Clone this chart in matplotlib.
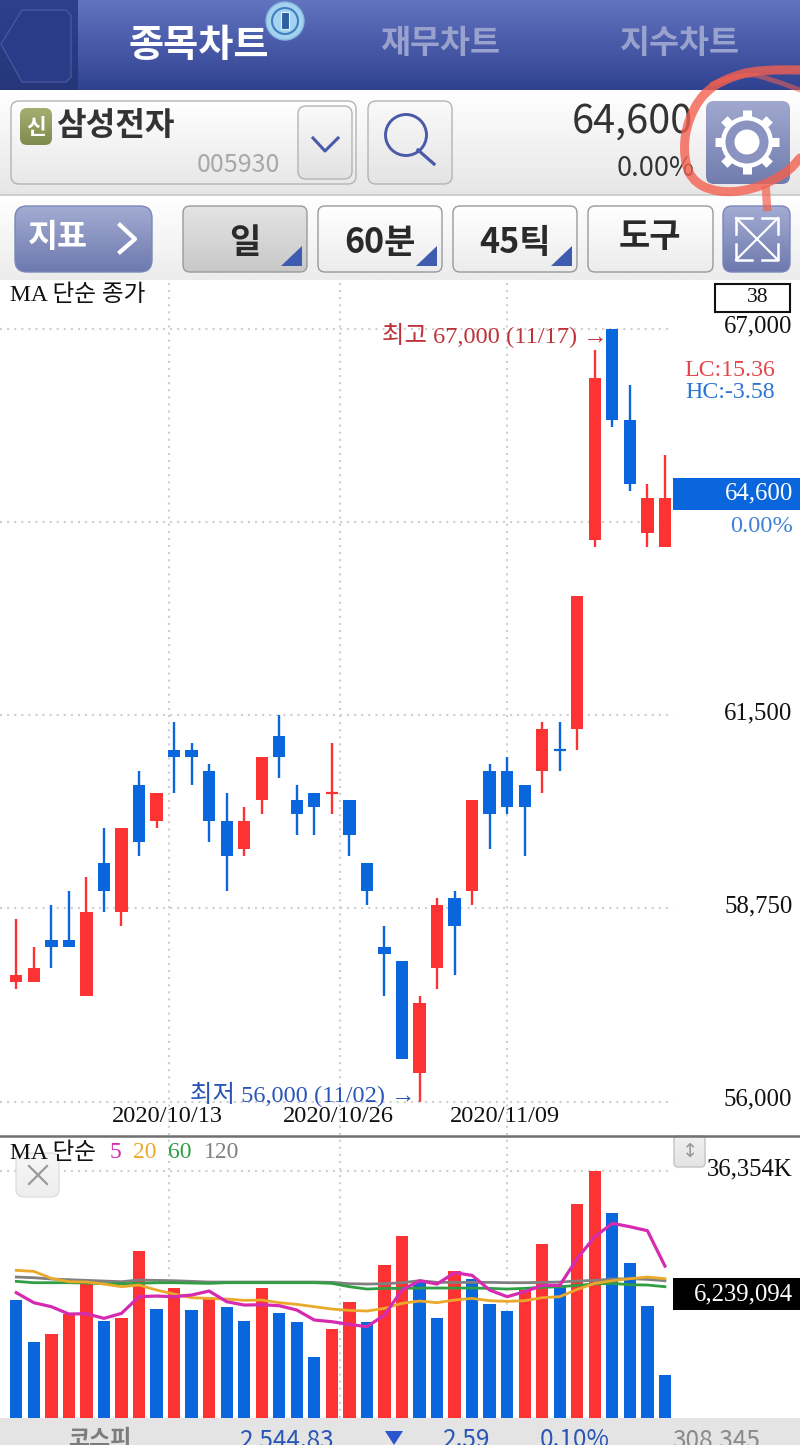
import numpy as np
import matplotlib
matplotlib.use('Agg')
import matplotlib.pyplot as plt
from matplotlib.patches import FancyBboxPatch, Circle, Polygon, Rectangle, PathPatch
from matplotlib.path import Path

KR = ['Noto Sans CJK KR', 'DejaVu Sans']
SERIF = ['Liberation Serif', 'Noto Sans CJK KR']
plt.rcParams['font.family'] = KR

# daily candles, won
opens = [57700, 57700, 58300, 58300, 57500, 59400, 58700, 60500, 60000, 61000,
         61000, 60700, 60000, 59600, 60300, 61200, 60300, 60400, 60400, 60300,
         59400, 58200, 58000, 56400, 57900, 58900, 59000, 60700, 60700, 60500,
         60700, 61000, 61300, 64000, 67000, 65700, 64100, 63900]
highs = [58600, 58200, 58800, 59000, 59200, 59900, 59900, 60700, 60400, 61400,
         61100, 60800, 60400, 60200, 60900, 61500, 60500, 60400, 61100, 60300,
         59400, 58500, 58000, 57500, 58900, 59000, 60300, 60800, 60900, 60500,
         61400, 61400, 63200, 66700, 67000, 66200, 64800, 65200]
lows = [57600, 57700, 57900, 58200, 57500, 58700, 58500, 59500, 59900, 60400,
        60500, 59700, 59000, 59500, 60100, 60600, 59800, 59800, 60100, 59500,
        58800, 57500, 56600, 56000, 57600, 57800, 58800, 59600, 60100, 59500,
        60400, 60700, 61000, 63900, 65600, 64700, 63900, 63900]
closes = [57800, 57900, 58200, 58200, 58700, 59000, 59900, 59700, 60400, 60900,
          60900, 60000, 59500, 60000, 60900, 60900, 60100, 60200, 60400, 59800,
          59000, 58100, 56600, 57400, 58800, 58500, 60300, 60100, 60200, 60200,
          61300, 61000, 63200, 66300, 65700, 64800, 64600, 64600]
candle_up = [1, 1, 0, 0, 1, 0, 1, 0, 1, 0, 0, 0, 0, 1, 1, 0, 0, 0, 1, 0,
             0, 0, 0, 1, 1, 0, 1, 0, 0, 0, 1, 0, 1, 1, 0, 0, 1, 1]

# volume, thousands of shares
volumes = [17367, 11137, 12363, 15258, 20164, 14227, 14620, 24481, 15945, 19084,
           15846, 17563, 16337, 14227, 19133, 15454, 14031, 8978, 13001, 17073,
           14129, 22519, 26787, 20164, 14718, 21537, 20409, 16680, 15699, 18790,
           25511, 19526, 31447, 36354, 30172, 22813, 16386, 6239]
volume_up = [0, 0, 1, 1, 1, 0, 1, 1, 0, 1, 0, 1, 0, 0, 1, 0, 0, 0, 1, 1,
             0, 1, 1, 0, 0, 1, 0, 0, 0, 1, 1, 0, 1, 1, 0, 0, 0, 0]
ma5 = [18398, 16926, 16337, 15258, 15307, 14620, 15356, 17809, 17907, 17809,
       18054, 18643, 17073, 16582, 16631, 16484, 15846, 14375, 14129, 13737,
       13393, 15110, 18790, 20164, 19673, 21341, 20949, 18790, 17809, 18545,
       19477, 19477, 23451, 26640, 28602, 28111, 27523, 22322]
ma20 = [21685, 21537, 20507, 20016, 19967, 19673, 19281, 19526, 18790, 18201,
        17662, 17563, 17465, 17269, 17318, 16926, 16680, 16337, 15994, 15797,
        15699, 16092, 16828, 17171, 16926, 17318, 17563, 17220, 17122, 17220,
        17662, 17809, 18888, 19771, 20164, 20458, 20703, 20458]
ma60 = [20066, 19869, 19869, 19869, 19820, 19722, 19722, 19771, 19869, 19869,
        19820, 19771, 19869, 19869, 19869, 19869, 19869, 19869, 19771, 19281,
        18937, 19035, 19035, 19084, 19084, 19084, 19084, 19035, 18937, 19035,
        19182, 19281, 19477, 19673, 19771, 19575, 19526, 19281]
ma120 = [20703, 20605, 20409, 20311, 20213, 20115, 20016, 20262, 20213, 20164,
         20066, 19967, 19967, 19967, 19967, 19967, 19967, 19967, 19918, 19722,
         19673, 19722, 19869, 20164, 19918, 19918, 19918, 19918, 19869, 19869,
         19918, 19967, 20115, 20213, 20409, 20458, 20360, 20164]

price_ticks = [67000, 64250, 61500, 58750, 56000]
price_labels = ['67,000', '', '61,500', '58,750', '56,000']
date_pos = [8.71, 18.44, 27.97]
date_labels = ['2020/10/13', '2020/10/26', '2020/11/09']

RED = '#fd3333'
BLUE = '#0a66dc'
GRID = '#cfcfcf'
W, H = 800, 1445
XLIM = (-0.93, 37.46)

fig = plt.figure(figsize=(W / 100, H / 100), dpi=100, facecolor='white')


def panel(top, bottom):
    return fig.add_axes([0, 1 - bottom / H, 673 / W, (bottom - top) / H])


def style_panel(ax, yticks):
    ax.set_xlim(*XLIM)
    for s in ax.spines.values():
        s.set_visible(False)
    ax.set_xticks(date_pos)
    ax.set_xticklabels([])
    ax.set_yticks(yticks)
    ax.set_yticklabels([])
    ax.tick_params(length=0)
    ax.grid(True, color=GRID, lw=1.5, ls=(0, (1, 2.4)))
    ax.set_axisbelow(True)


# price panel: 67,000 sits at y=329 and 56,000 at y=1101.5
ax = panel(280, 1135)
per_px = 11000 / (1101.5 - 329)
ax.set_ylim(56000 - (1135 - 1101.5) * per_px, 67000 + (329 - 280) * per_px)
style_panel(ax, price_ticks)

idx = np.arange(len(opens))
colors = [RED if u else BLUE for u in candle_up]
ax.vlines(idx, lows, highs, colors=colors, lw=1.7, zorder=3)
bottoms = [min(o, c) for o, c in zip(opens, closes)]
heights = [abs(o - c) for o, c in zip(opens, closes)]
ax.bar(idx, heights, 0.7, bottoms, color=colors, zorder=4)
for i in idx:
    if heights[i] == 0:
        ax.hlines(opens[i], i - 0.35, i + 0.35, colors=colors[i], lw=1.6, zorder=4)

for val, lab in zip(price_ticks, price_labels):
    ax.annotate(lab, xy=(1, val), xycoords=('axes fraction', 'data'),
                xytext=(86, 1.5), textcoords='offset points', ha='right', va='center',
                family=SERIF, fontsize=17.8, color='#111111')
for pos, lab in zip(date_pos, date_labels):
    ax.annotate(lab, xy=(pos, 0), xycoords=('data', 'axes fraction'),
                xytext=(-1, 13), textcoords='offset points', ha='center', va='center',
                family=SERIF, fontsize=17.6, color='#111111')

# volume panel: 36,354K sits at y=1170.7 and zero at y=1417.7
vax = panel(1138, 1417.7)
vax.set_ylim(0, 36354 * (1417.7 - 1138) / (1417.7 - 1170.7))
style_panel(vax, [36354])
vax.bar(idx, volumes, 0.7, color=[RED if u else BLUE for u in volume_up], zorder=3)
vax.plot(idx, ma120, color='#808080', lw=2.0, zorder=4)
vax.plot(idx, ma60, color='#2f9e44', lw=2.0, zorder=5)
vax.plot(idx, ma20, color='#eaa92a', lw=2.0, zorder=6)
vax.plot(idx, ma5, color='#d42bb0', lw=2.3, zorder=7)

# everything around the charts, in screen pixels
ui = fig.add_axes([0, 0, 1, 1], zorder=10)
ui.patch.set_alpha(0)
ui.axis('off')


def grad(x0, y0, x1, y1, c0, c1, z=1):
    a = np.array(matplotlib.colors.to_rgb(c0))
    b = np.array(matplotlib.colors.to_rgb(c1))
    t = np.linspace(0, 1, 64)[:, None, None]
    img = a[None, None, :] * (1 - t) + b[None, None, :] * t
    return ui.imshow(img, extent=(x0, x1, y1, y0), aspect='auto', zorder=z)


def button(x0, y0, x1, y1, top='#ffffff', bottom='#e6e6e6', ec='#b4b4b4', r=8, lw=1.0, z=3):
    box = FancyBboxPatch((x0 + r, y0 + r), x1 - x0 - 2 * r, y1 - y0 - 2 * r,
                         boxstyle='round,pad=%d,rounding_size=%d' % (r, r),
                         fc='none', ec=ec, lw=lw, zorder=z + 0.5)
    ui.add_patch(box)
    grad(x0, y0, x1, y1, top, bottom, z).set_clip_path(box)


def label(x, y, s, size, color='#222222', ha='center', family=KR, weight='normal', z=6):
    # both fonts sit a little high when centred
    y = y + (3 if family is KR else 2)
    ui.text(x, y, s, fontsize=size, color=color, ha=ha, va='center',
            family=family, fontweight=weight, zorder=z)


def smooth(pts, **kw):
    # quadratic curve through the midpoints of a hand drawn stroke
    verts, codes = [pts[0]], [Path.MOVETO]
    for a, b in zip(pts[1:-1], pts[2:]):
        verts += [a, ((a[0] + b[0]) / 2, (a[1] + b[1]) / 2)]
        codes += [Path.CURVE3, Path.CURVE3]
    verts.append(pts[-1])
    codes.append(Path.LINETO)
    ui.add_patch(PathPatch(Path(verts, codes), fc='none', **kw))


grad(0, 0, W, 90, '#6273bf', '#2f4291')
grad(0, 0, 78, 90, '#2f3f8c', '#263679', z=1.5)
grad(0, 91, W, 195, '#ffffff', '#e6e6e6')
grad(0, 196, W, 280, '#ffffff', '#ececec')
ui.plot([0, W], [195, 195], color='#c8c8c8', lw=1.2, zorder=2)
ui.add_patch(Polygon([(1, 44), (22, 10), (66, 10), (71, 15), (71, 77), (66, 82), (22, 82)],
                     fc='#2b3b88', ec='#45559f', lw=1.0, zorder=3))

label(199, 42, '종목차트', 27.5, 'white', weight='bold')
label(440, 41, '재무차트', 23.5, '#98a2cd', weight='bold')
label(680, 41, '지수차트', 23.5, '#98a2cd', weight='bold')
ui.add_patch(Circle((285, 21), 19, fc='#a5d3ef', ec='#7fb8e0', lw=1, zorder=4))
ui.add_patch(Circle((285, 21), 13, fc='none', ec='#3f7fc0', lw=1.5, zorder=5))
ui.add_patch(Rectangle((281, 12), 8, 17, fc='#2f5f9f', ec='#dfefff', lw=0.8, zorder=6))

# search row
button(11, 101, 356, 184, '#ffffff', '#e8e8e8')
button(298, 106, 352, 179, '#fafafa', '#e2e2e2')
button(368, 101, 452, 184, '#fafafa', '#e4e4e4')
button(20, 108, 52, 145, '#a4ae70', '#7f8c4e', 'none', r=7)
label(36, 124, '신', 15.5, 'white', weight='bold')
label(56, 123, '삼성전자', 23.2, '#333333', ha='left', weight='bold')
label(280, 162, '005930', 18, '#a8a8a8', ha='right')
ui.plot([313, 325, 338], [138, 151, 138], color='#4a5aa8', lw=2.2, zorder=6)
ui.add_patch(Circle((406, 135), 20.5, fc='none', ec='#4a5aa8', lw=2.1, zorder=6))
ui.plot([418, 434], [150, 164], color='#4a5aa8', lw=2.3, zorder=6)
label(693, 119, '64,600', 28.5, '#333333', ha='right')
label(695, 166, '0.00%', 19.5, '#333333', ha='right')

# gear button
button(706, 101, 790, 184, '#a0a8ce', '#727dae', 'none', r=8)
for ang in np.arange(0, 360, 45):
    c, s = np.cos(np.radians(ang)), np.sin(np.radians(ang))
    ui.plot([747 + 22 * c, 747 + 32 * c], [142 + 22 * s, 142 + 32 * s], color='white',
            lw=6.5, solid_capstyle='butt', zorder=6)
ui.add_patch(Circle((747, 142), 26, fc='white', ec='none', zorder=6))
ui.add_patch(Circle((747, 142), 21.5, fc='#8b94c0', ec='none', zorder=6))
ui.add_patch(Circle((747, 142), 12.5, fc='white', ec='none', zorder=6))

# red scribble round the gear
smooth([(800, 70), (760, 69), (727, 78), (703, 93), (688, 120), (683, 150), (690, 180),
        (717, 193), (753, 190), (787, 173), (800, 158)],
       ec='#f4604f', lw=6.5, alpha=0.8, capstyle='round', zorder=7)
smooth([(712, 84), (745, 72), (773, 80), (800, 90)],
       ec='#f4604f', lw=3.5, alpha=0.55, capstyle='round', zorder=7)
ui.plot([766, 767], [190, 207], color='#f4604f', lw=6, alpha=0.7, zorder=7)

# period row
button(15, 206, 152, 272, '#a3acd2', '#6d79ae', '#7b87ba', r=12)
label(58, 235, '지표', 23.5, 'white', weight='bold')
ui.plot([120, 135, 120], [225, 239, 252], color='white', lw=3, zorder=6)
tabs = [(183, 307, '일', 245), (318, 442, '60분', 380), (453, 577, '45틱', 515), (588, 713, '도구', 650)]
for i, (x0, x1, txt, cx) in enumerate(tabs):
    if i == 0:
        button(x0, 206, x1, 272, '#e4e4e4', '#c8c8c8', '#9a9a9a', r=7)
    else:
        button(x0, 206, x1, 272, '#ffffff', '#ececec', '#9a9a9a', r=7)
    label(cx, 240 if i < 3 else 234, txt, 24.5, '#2a2a2a', weight='bold')
    if i < 3:
        ui.add_patch(Polygon([(x1 - 5, 246), (x1 - 5, 266), (x1 - 26, 266)], fc='#3f5bb0',
                             ec='none', zorder=6))
button(723, 206, 790, 272, '#a3acd2', '#6d79ae', '#7b87ba', r=9)
ui.plot([736, 778], [218, 260], color='white', lw=1.6, zorder=6)
ui.plot([778, 736], [218, 260], color='white', lw=1.6, zorder=6)
for pts in ([(736, 234), (736, 218), (752, 218)], [(762, 218), (778, 218), (778, 234)],
            [(736, 244), (736, 260), (752, 260)], [(762, 260), (778, 260), (778, 244)]):
    ui.plot(*zip(*pts), color='white', lw=1.8, zorder=6)

# chart captions
label(10, 293, 'MA 단순 종가', 17, '#111111', ha='left', family=SERIF)
ui.add_patch(Rectangle((715, 284), 75, 28, fc='white', ec='#111111', lw=1.5, zorder=5))
label(758, 296, '38', 15.5, '#111111', family=SERIF)
label(775, 369, 'LC:15.36', 17.2, '#e2474b', ha='right', family=SERIF)
label(775, 391, 'HC:-3.58', 17.2, '#2c74d6', ha='right', family=SERIF)
ui.add_patch(Rectangle((673, 478), 127, 32, fc=BLUE, ec='none', zorder=5))
label(793, 491, '64,600', 17.8, 'white', ha='right', family=SERIF)
label(793, 524, '0.00%', 17.6, '#3d82d8', ha='right', family=SERIF)
label(608, 333, '최고 67,000 (11/17) →', 17.6, '#c0323a', ha='right', family=SERIF)
label(416, 1092, '최저 56,000 (11/02) →', 17.6, '#2a56b8', ha='right', family=SERIF)

# volume captions
ui.plot([0, W], [1136, 1136], color='#707070', lw=1.8, zorder=5)
label(10, 1151, 'MA 단순', 17, '#111111', ha='left', family=SERIF)
for x, txt, col in [(110, '5', '#d42bb0'), (133, '20', '#eaa92a'), (168, '60', '#2f9e44'), (204, '120', '#808080')]:
    label(x, 1151, txt, 17, col, ha='left', family=SERIF)
button(16, 1153, 59, 1197, '#f6f6f6', '#eeeeee', '#dddddd', r=8)
ui.plot([29, 47], [1166, 1184], color='#999999', lw=1.6, zorder=6)
ui.plot([47, 29], [1166, 1184], color='#999999', lw=1.6, zorder=6)
button(674, 1136, 705, 1167, '#f0f0f0', '#e4e4e4', '#c4c4c4', r=4)
label(690, 1149, '↕', 14, '#999999', family=['DejaVu Sans'])
label(793, 1167, '36,354K', 17.8, '#111111', ha='right', family=SERIF)
ui.add_patch(Rectangle((673, 1278), 127, 32, fc='black', ec='none', zorder=5))
label(793, 1292, '6,239,094', 17.8, 'white', ha='right', family=SERIF)

# status strip, cut by the bottom edge like the screenshot
ui.add_patch(Rectangle((0, 1418), W, 27, fc='#e4e4e4', ec='none', zorder=4))
label(100, 1437, '코스피', 16.5, '#7c7c7c', weight='bold')
label(335, 1437, '2,544.83', 17.5, '#2a56b8', ha='right')
ui.add_patch(Polygon([(385, 1431), (403, 1431), (394, 1445)], fc='#2a56d0', ec='none', zorder=6))
label(490, 1437, '2.59', 17.5, '#2a56b8', ha='right')
label(610, 1437, '0.10%', 17.5, '#2a56b8', ha='right')
label(760, 1437, '308,345', 17.5, '#8a8a8a', ha='right')

ui.set_xlim(0, W)
ui.set_ylim(H, 0)

fig.savefig('out.png', dpi=100)
